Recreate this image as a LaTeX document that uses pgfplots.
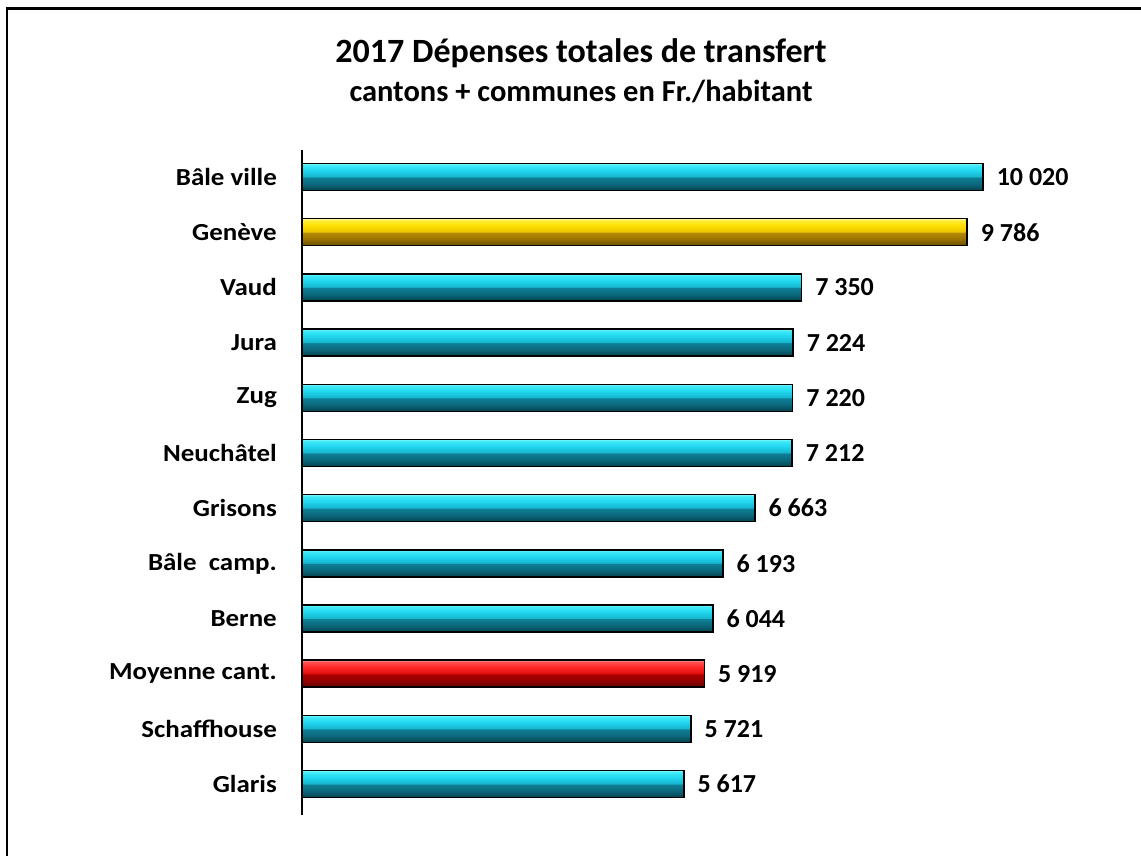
\documentclass[border=0pt]{standalone}
\usepackage{pgfplots}
\pgfplotsset{compat=1.18}
\usepackage{fontspec}
\setmainfont{Carlito}
\newfontfamily\labfont{Carlito}[FakeStretch=1.1]
\definecolor{cyA}{HTML}{064552}
\definecolor{cyB}{HTML}{0B6A7E}
\definecolor{cyC}{HTML}{0E7F95}
\definecolor{cyD}{HTML}{16B6CF}
\definecolor{cyE}{HTML}{20D6EE}
\definecolor{cyF}{HTML}{3FEAF8}
\definecolor{cyG}{HTML}{8AF6FF}
\definecolor{goA}{HTML}{6E5000}
\definecolor{goB}{HTML}{9C7400}
\definecolor{goC}{HTML}{B48A00}
\definecolor{goD}{HTML}{ECC400}
\definecolor{goE}{HTML}{FFDF00}
\definecolor{goF}{HTML}{FFEE3A}
\definecolor{goG}{HTML}{FFF8A0}
\definecolor{reA}{HTML}{680000}
\definecolor{reB}{HTML}{960000}
\definecolor{reC}{HTML}{AE0000}
\definecolor{reD}{HTML}{E41010}
\definecolor{reE}{HTML}{FF2626}
\definecolor{reF}{HTML}{FF5252}
\definecolor{reG}{HTML}{FF9A9A}
\pgfdeclareverticalshading{cyanbar}{100bp}{color(0bp)=(cyA); color(26bp)=(cyA); color(38bp)=(cyB); color(49bp)=(cyC); color(51bp)=(cyD); color(62bp)=(cyE); color(72bp)=(cyF); color(75bp)=(cyG); color(100bp)=(cyG)}
\pgfdeclareverticalshading{goldbar}{100bp}{color(0bp)=(goA); color(26bp)=(goA); color(38bp)=(goB); color(49bp)=(goC); color(51bp)=(goD); color(62bp)=(goE); color(72bp)=(goF); color(75bp)=(goG); color(100bp)=(goG)}
\pgfdeclareverticalshading{redbar}{100bp}{color(0bp)=(reA); color(26bp)=(reA); color(38bp)=(reB); color(49bp)=(reC); color(51bp)=(reD); color(62bp)=(reE); color(72bp)=(reF); color(75bp)=(reG); color(100bp)=(reG)}
\pgfplotsset{
  cybar/.style={draw=black, line width=1.5bp, shade, shading=cyanbar},
  gobar/.style={draw=black, line width=1.5bp, shade, shading=goldbar},
  rebar/.style={draw=black, line width=1.5bp, shade, shading=redbar},
}
\begin{document}
\begin{tikzpicture}
\useasboundingbox (0bp,0bp) rectangle (1141bp,856bp);
\draw[line width=2.5bp] (7.2bp,0bp) -- (7.2bp,847.7bp) -- (1141bp,847.7bp);
\node[anchor=base, font=\bfseries\fontsize{34bp}{40bp}\selectfont] at (581bp,793bp) {2017 Dépenses totales de transfert};
\node[anchor=base, font=\bfseries\fontsize{30.5bp}{36bp}\selectfont] at (581bp,754bp) {cantons + communes en Fr./habitant};
\begin{axis}[
  at={(302bp,41bp)}, anchor=south west,
  scale only axis, width=798bp, height=665bp,
  xmin=0, xmax=11741, ymin=-0.56, ymax=11.49,
  xbar, bar width=27bp, bar shift=0pt,
  axis x line=none, axis y line=left,
  axis line style={-, line width=1.2bp},
  ytick={0,...,11},
  yticklabels={Glaris,Schaffhouse,Moyenne cant.,Berne,Bâle\ \ camp.,Grisons,Neuchâtel,Zug,Jura,Vaud,Genève,Bâle ville},
  major tick length=0pt,
  yticklabel style={font=\labfont\bfseries\fontsize{24.5bp}{28bp}\selectfont, inner sep=0pt, xshift=-25bp},
  point meta=explicit symbolic,
  nodes near coords,
  nodes near coords style={font=\bfseries\fontsize{26bp}{30bp}\selectfont, anchor=west, inner sep=0pt, xshift=13bp, text=black},
  clip=false,
]
\addplot[cybar] coordinates {(5617,0) [5 617]};
\addplot[cybar] coordinates {(5721,1) [5 721]};
\addplot[rebar] coordinates {(5919,2) [5 919]};
\addplot[cybar] coordinates {(6044,3) [6 044]};
\addplot[cybar] coordinates {(6193,4) [6 193]};
\addplot[cybar] coordinates {(6663,5) [6 663]};
\addplot[cybar] coordinates {(7212,6) [7 212]};
\addplot[cybar] coordinates {(7220,7) [7 220]};
\addplot[cybar] coordinates {(7224,8) [7 224]};
\addplot[cybar] coordinates {(7350,9) [7 350]};
\addplot[gobar] coordinates {(9786,10) [9 786]};
\addplot[cybar] coordinates {(10020,11) [10 020]};
\end{axis}
\end{tikzpicture}
\end{document}
